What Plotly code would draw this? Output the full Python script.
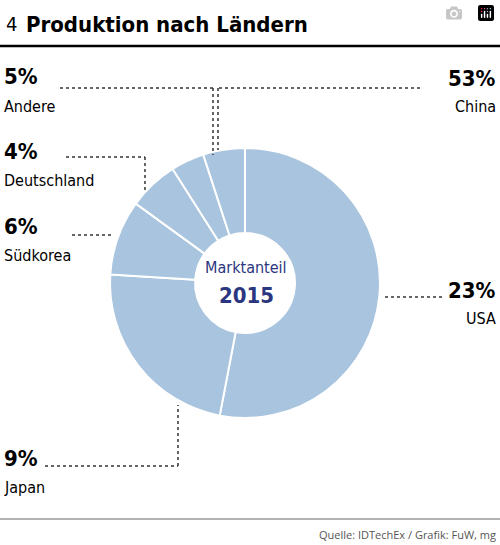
import plotly.graph_objs as graph

laender = ["China", "USA", "Japan", "Südkorea", "Deutschland", "Andere"]
anteile = [53, 23, 9, 6, 4, 5]

W, H = 500, 545
FONT = "Liberation Sans Narrow, DejaVu Sans Condensed, Arial Narrow, sans-serif"
NAVY = "#2b3680"


def px(x, y):
    # pixel position -> paper coordinates
    return x / W, 1 - y / H


pie = graph.Pie(
    labels=laender,
    values=anteile,
    hole=0.37,
    sort=False,
    direction="clockwise",
    rotation=0,
    textinfo="none",
    hoverinfo="label+percent",
    marker=dict(colors=["#a8c4de"] * len(laender), line=dict(color="white", width=2)),
    domain=dict(x=[110 / W, 380 / W], y=[1 - 418 / H, 1 - 148 / H]),
    showlegend=False,
)

annotations = []


def text(x, y, s, size, bold=False, anchor="left", color="black"):
    ax, ay = px(x, y)
    annotations.append(dict(
        x=ax, y=ay, xref="paper", yref="paper", text="<b>%s</b>" % s if bold else s,
        showarrow=False, xanchor=anchor, yanchor="middle",
        font=dict(family=FONT, size=size, color=color)))


# label positions (pixels): percent y, name y, side
label_pos = {
    "Andere": (76, 106, "left"),
    "Deutschland": (151, 180, "left"),
    "Südkorea": (226, 255, "left"),
    "China": (78, 106, "right"),
    "USA": (290, 318, "right"),
    "Japan": (458, 487, "left"),
}
for name, pct in zip(laender, anteile):
    py, ny, side = label_pos[name]
    x = 2 if side == "left" else 498
    text(x, py, "%d%%" % pct, 22, bold=True, anchor=side)
    text(x, ny, name, 16, anchor=side)

text(4, 24, "4 ", 20, anchor="left")
text(24, 24, "Produktion nach Ländern", 22, bold=True, anchor="left")
text(246, 267, "Marktanteil", 16, anchor="center", color=NAVY)
text(246, 295, "2015", 22, bold=True, anchor="center", color=NAVY)
annotations.append(dict(
    x=0.995, y=1 - 534 / H, xref="paper", yref="paper", text="Quelle: IDTechEx / Grafik: FuW, mg",
    showarrow=False, xanchor="right", yanchor="middle",
    font=dict(family="Open Sans, sans-serif", size=11, color="#555")))

dots = dict(color="#333", width=1.5, dash="dot")
paths = [
    [(60, 88), (213, 88), (213, 155)],
    [(66, 157), (145, 157), (145, 190)],
    [(72, 235), (113, 235)],
    [(420, 88), (218, 88), (218, 150)],
    [(385, 297), (445, 297)],
    [(45, 466), (178, 466), (178, 405)],
]
shapes = []
for p in paths:
    for (x0, y0), (x1, y1) in zip(p[:-1], p[1:]):
        a, b = px(x0, y0)
        c, d = px(x1, y1)
        shapes.append(dict(type="line", xref="paper", yref="paper",
                           x0=a, y0=b, x1=c, y1=d, line=dots))
shapes.append(dict(type="line", xref="paper", yref="paper",
                   x0=0, x1=1, y0=1 - 46 / H, y1=1 - 46 / H, line=dict(color="black", width=2.5)))
shapes.append(dict(type="line", xref="paper", yref="paper",
                   x0=0, x1=1, y0=1 - 519 / H, y1=1 - 519 / H, line=dict(color="#666", width=1)))

layout = graph.Layout(
    width=W, height=H,
    margin=dict(l=0, r=0, t=0, b=0),
    paper_bgcolor="white",
    annotations=annotations,
    shapes=shapes,
)

fig = graph.Figure(data=[pie], layout=layout)
fig.write_html("out.html",
               post_script="document.body.style.margin='0';document.body.style.overflow='hidden';")
